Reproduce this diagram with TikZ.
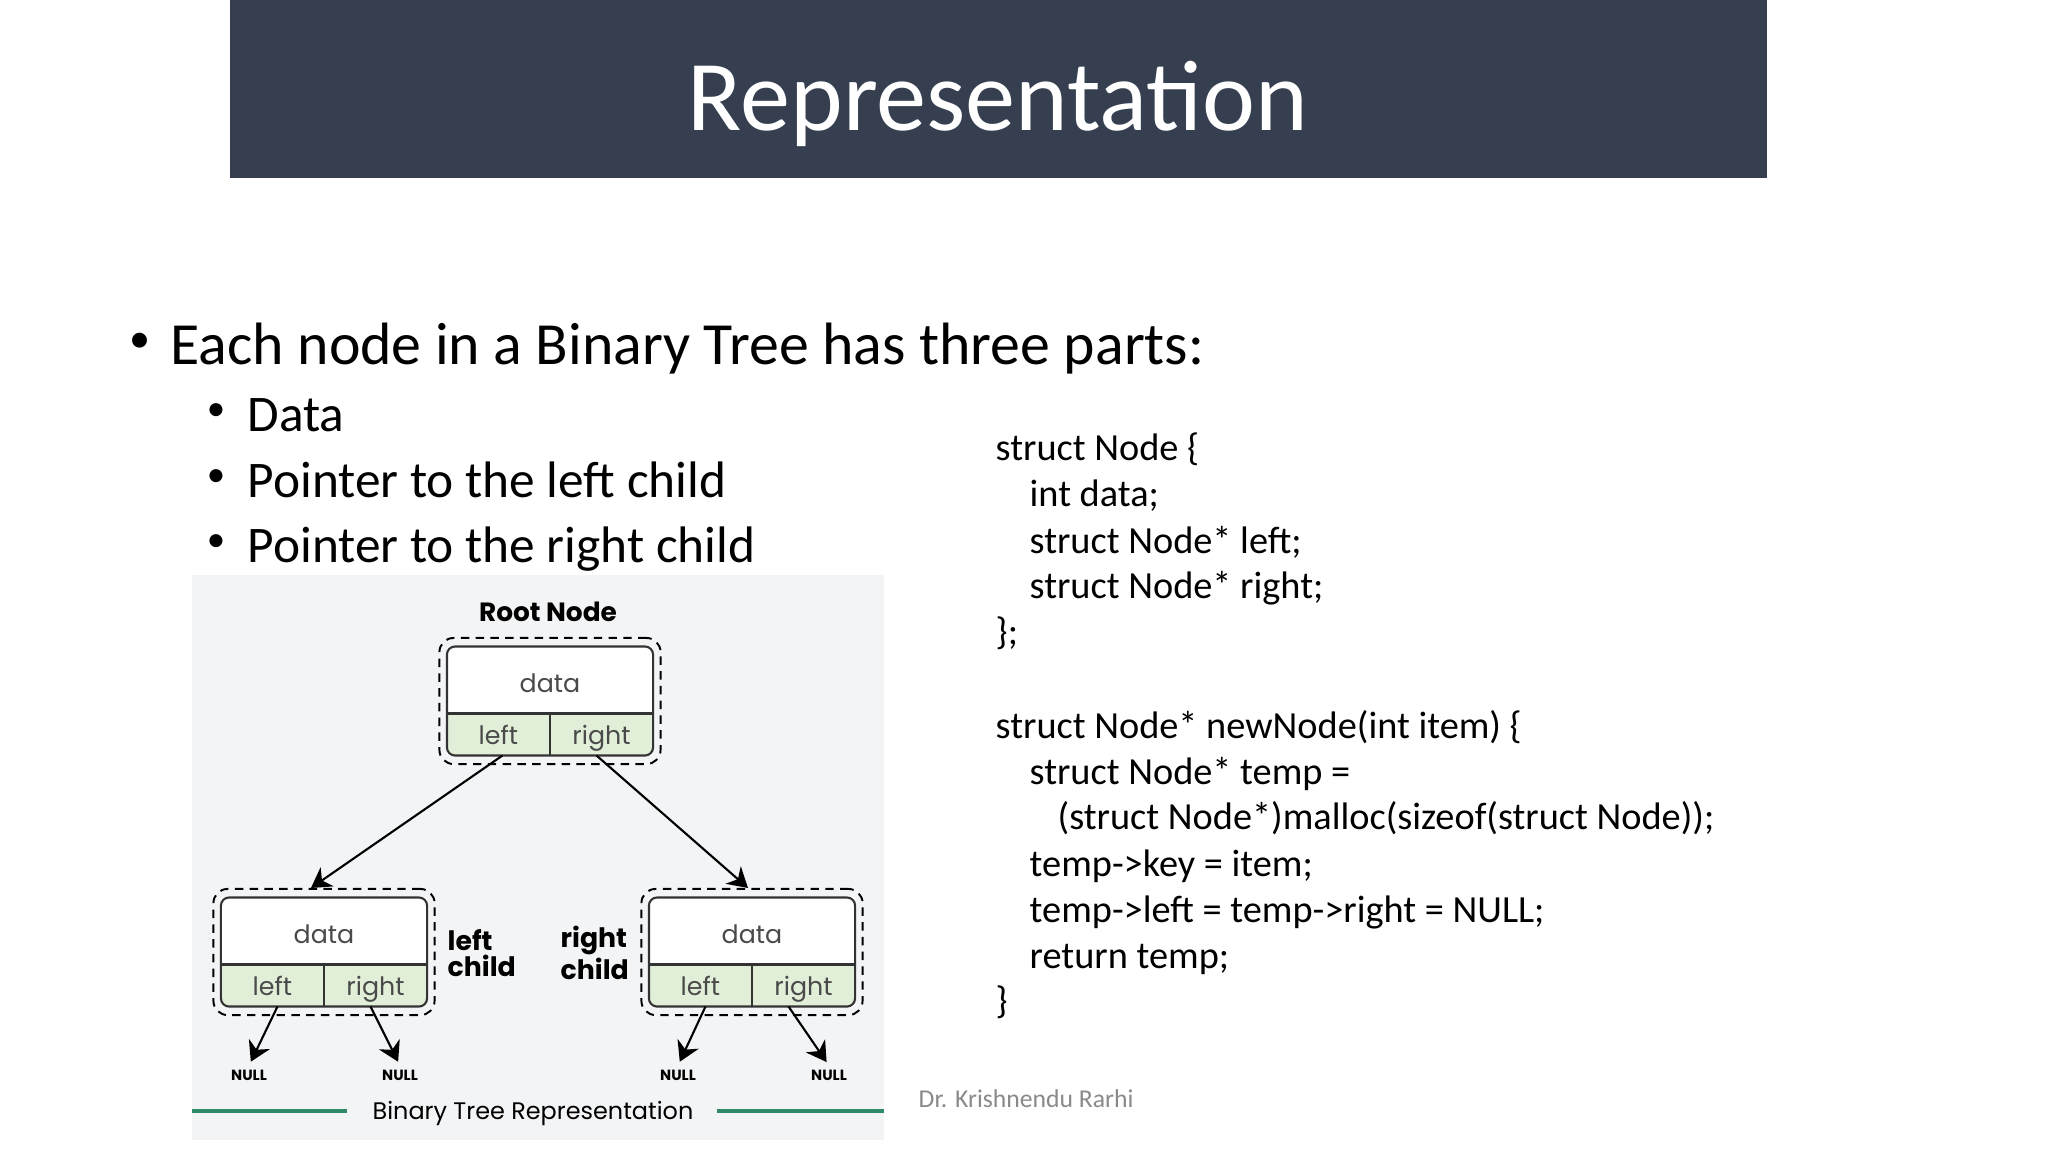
\documentclass[tikz,border=0pt]{standalone}
\usepackage{fontspec}
\setmainfont{Carlito}
\newfontfamily\pop{Poppins}
\usetikzlibrary{arrows.meta,calc}
\definecolor{titlebar}{HTML}{353F4F}
\definecolor{panel}{HTML}{F3F4F6}
\definecolor{cellgreen}{HTML}{E2EFD8}
\definecolor{boxline}{HTML}{333333}
\definecolor{celltxt}{HTML}{4A4A4A}
\definecolor{gline}{HTML}{2F8A68}
\definecolor{foot}{HTML}{8A8A8A}
\tikzset{
  dashbox/.style={draw=black, dashed, dash pattern=on 2.4pt off 1.8pt, line width=0.55pt, rounded corners=4pt, minimum width=2.21cm, minimum height=1.26cm, inner sep=0pt},
  inbox/.style={fill=white, minimum width=2.06cm, minimum height=1.09cm, inner sep=0pt, outer sep=0pt},
  cell/.style={fill=cellgreen, minimum width=1.03cm, minimum height=0.42cm, inner sep=0pt, outer sep=0pt, text=celltxt, text height=6.2pt, text depth=0.3pt, font={\pop\fontsize{7.2}{8}\selectfont}},
  celltext/.style={text=celltxt, inner sep=0pt, font={\pop\fontsize{7.2}{8}\selectfont}},
  bline/.style={draw=boxline, line width=0.6pt},
  arr/.style={draw=black, line width=0.6pt, -{Stealth[length=5.6pt,width=6.6pt,inset=1.8pt]}},
  nulltxt/.style={inner sep=1pt, font={\pop\bfseries\fontsize{4.2}{5}\selectfont}},
  sidelbl/.style={inner sep=0pt, align=left, anchor=west, font={\pop\bfseries\fontsize{7.6}{7.4}\selectfont}},
  codeline/.style={anchor=base west, inner sep=0pt, font={\fontsize{10.9}{13}\selectfont}},
  subitem/.style={anchor=base west, inner sep=0pt, font={\fontsize{14.6}{17}\selectfont}},
  bul/.style={inner sep=0pt, font={\fontsize{10.5}{12}\selectfont}},
}
\newcommand\bnode[3]{%
  \node[dashbox] (#1d) at (#2,#3) {};
  \node[inbox] (#1) at (#2,#3) {};
  \begin{scope}
    \clip[rounded corners=2.3pt] (#1.south west) rectangle (#1.north east);
    \node[cell, anchor=south west] (#1L) at (#1.south west) {left};
    \node[cell, anchor=south east] (#1R) at (#1.south east) {right};
  \end{scope}
  \draw[bline, rounded corners=2.3pt] (#1.south west) rectangle (#1.north east);
  \draw[bline] (#1L.north west) -- (#1R.north east);
  \draw[bline] (#1L.north east) -- (#1L.south east);
  \node[celltext] (#1D) at ([yshift=-0.03cm]$(#1.north)!0.5!(#1L.north -| #1.north)$) {data};
}
\begin{document}
\begin{tikzpicture}[x=0.01cm,y=-0.01cm]
\fill[white] (0,0) rectangle (2048,1152);
\useasboundingbox (0,0) rectangle (2048,1152);
% title bar
\fill[titlebar] (230,0) rectangle (1767,178);
\node[anchor=base, text=white, inner sep=0pt, font={\fontsize{28.5}{32}\selectfont}] (title) at (998,131) {Representation};
% bullets
\node[inner sep=0pt, font={\fontsize{12}{14}\selectfont}] (b0) at (140,343) {•};
\node[anchor=base west, inner sep=0pt, font={\fontsize{17}{20}\selectfont}] (t0) at (170,365) {Each node in a Binary Tree has three parts:};
\node[bul] (b1) at (216,412) {•};
\node[subitem] (t1) at (247,432) {Data};
\node[bul] (b2) at (216,478) {•};
\node[subitem] (t2) at (247,498) {Pointer to the left child};
\node[bul] (b3) at (216,543) {•};
\node[subitem] (t3) at (247,563) {Pointer to the right child};
% code
\node[codeline] (c1) at (995,461) {struct Node \{};
\node[codeline] (c2) at (1029,507) {int data;};
\node[codeline] (c3) at (1029,554) {struct Node* left;};
\node[codeline] (c4) at (1029,599) {struct Node* right;};
\node[codeline] (c5) at (995,645) {\};};
\node[codeline] (c6) at (995,738) {struct Node* newNode(int item) \{};
\node[codeline] (c7) at (1029,784) {struct Node* temp =};
\node[codeline] (c8) at (1057,829) {(struct Node*)malloc(sizeof(struct Node));};
\node[codeline] (c9) at (1029,876) {temp->key = item;};
\node[codeline] (c10) at (1029,922) {temp->left = temp->right = NULL;};
\node[codeline] (c11) at (1029,968) {return temp;};
\node[codeline] (c12) at (995,1013) {\}};
% footer
\node[anchor=base west, inner sep=0pt, text=foot, font={\fontsize{7.3}{9}\selectfont}] (footer) at (918,1107) {Dr. Krishnendu Rarhi};
% diagram panel
\fill[panel] (192,575) rectangle (884,1140);
\node[inner sep=0pt, font={\pop\bfseries\fontsize{7.5}{9}\selectfont}] (rootlbl) at (548,612) {Root Node};
\bnode{root}{550}{701}
\bnode{lc}{324}{952}
\bnode{rc}{752}{952}
\node[sidelbl] (lclbl) at (447,953) {left\\child};
\node[sidelbl] (rclbl) at (560,953) {right\\child};
\node[nulltxt] (n1) at (249,1075) {NULL};
\node[nulltxt] (n2) at (400,1075) {NULL};
\node[nulltxt] (n3) at (678,1075) {NULL};
\node[nulltxt] (n4) at (829,1075) {NULL};
\draw[arr] ([xshift=0.04cm]rootL.south) -- ([xshift=-0.13cm]lcd.north);
\draw[arr] ([xshift=-0.05cm]rootR.south) -- ([xshift=-0.04cm]rcd.north);
\draw[arr, shorten >=1.2pt] ([xshift=0.05cm]lcL.south) -- (n1.north);
\draw[arr, shorten >=1.2pt] ([xshift=-0.05cm]lcR.south) -- (n2.north);
\draw[arr, shorten >=1.2pt] ([xshift=0.05cm]rcL.south) -- (n3.north);
\draw[arr, shorten >=1.2pt] ([xshift=-0.15cm]rcR.south) -- (n4.north);
% caption
\node[inner sep=0pt, font={\pop\fontsize{6.8}{8}\selectfont}] (cap) at (533,1114) {Binary Tree Representation};
\coordinate (gl1) at (192,1111);
\coordinate (gl2) at (884,1111);
\draw[gline, line width=1.4pt] (gl1) -- ([xshift=-0.25cm]cap.west |- gl1);
\draw[gline, line width=1.4pt] (gl2) -- ([xshift=0.23cm]cap.east |- gl2);
\end{tikzpicture}
\end{document}
